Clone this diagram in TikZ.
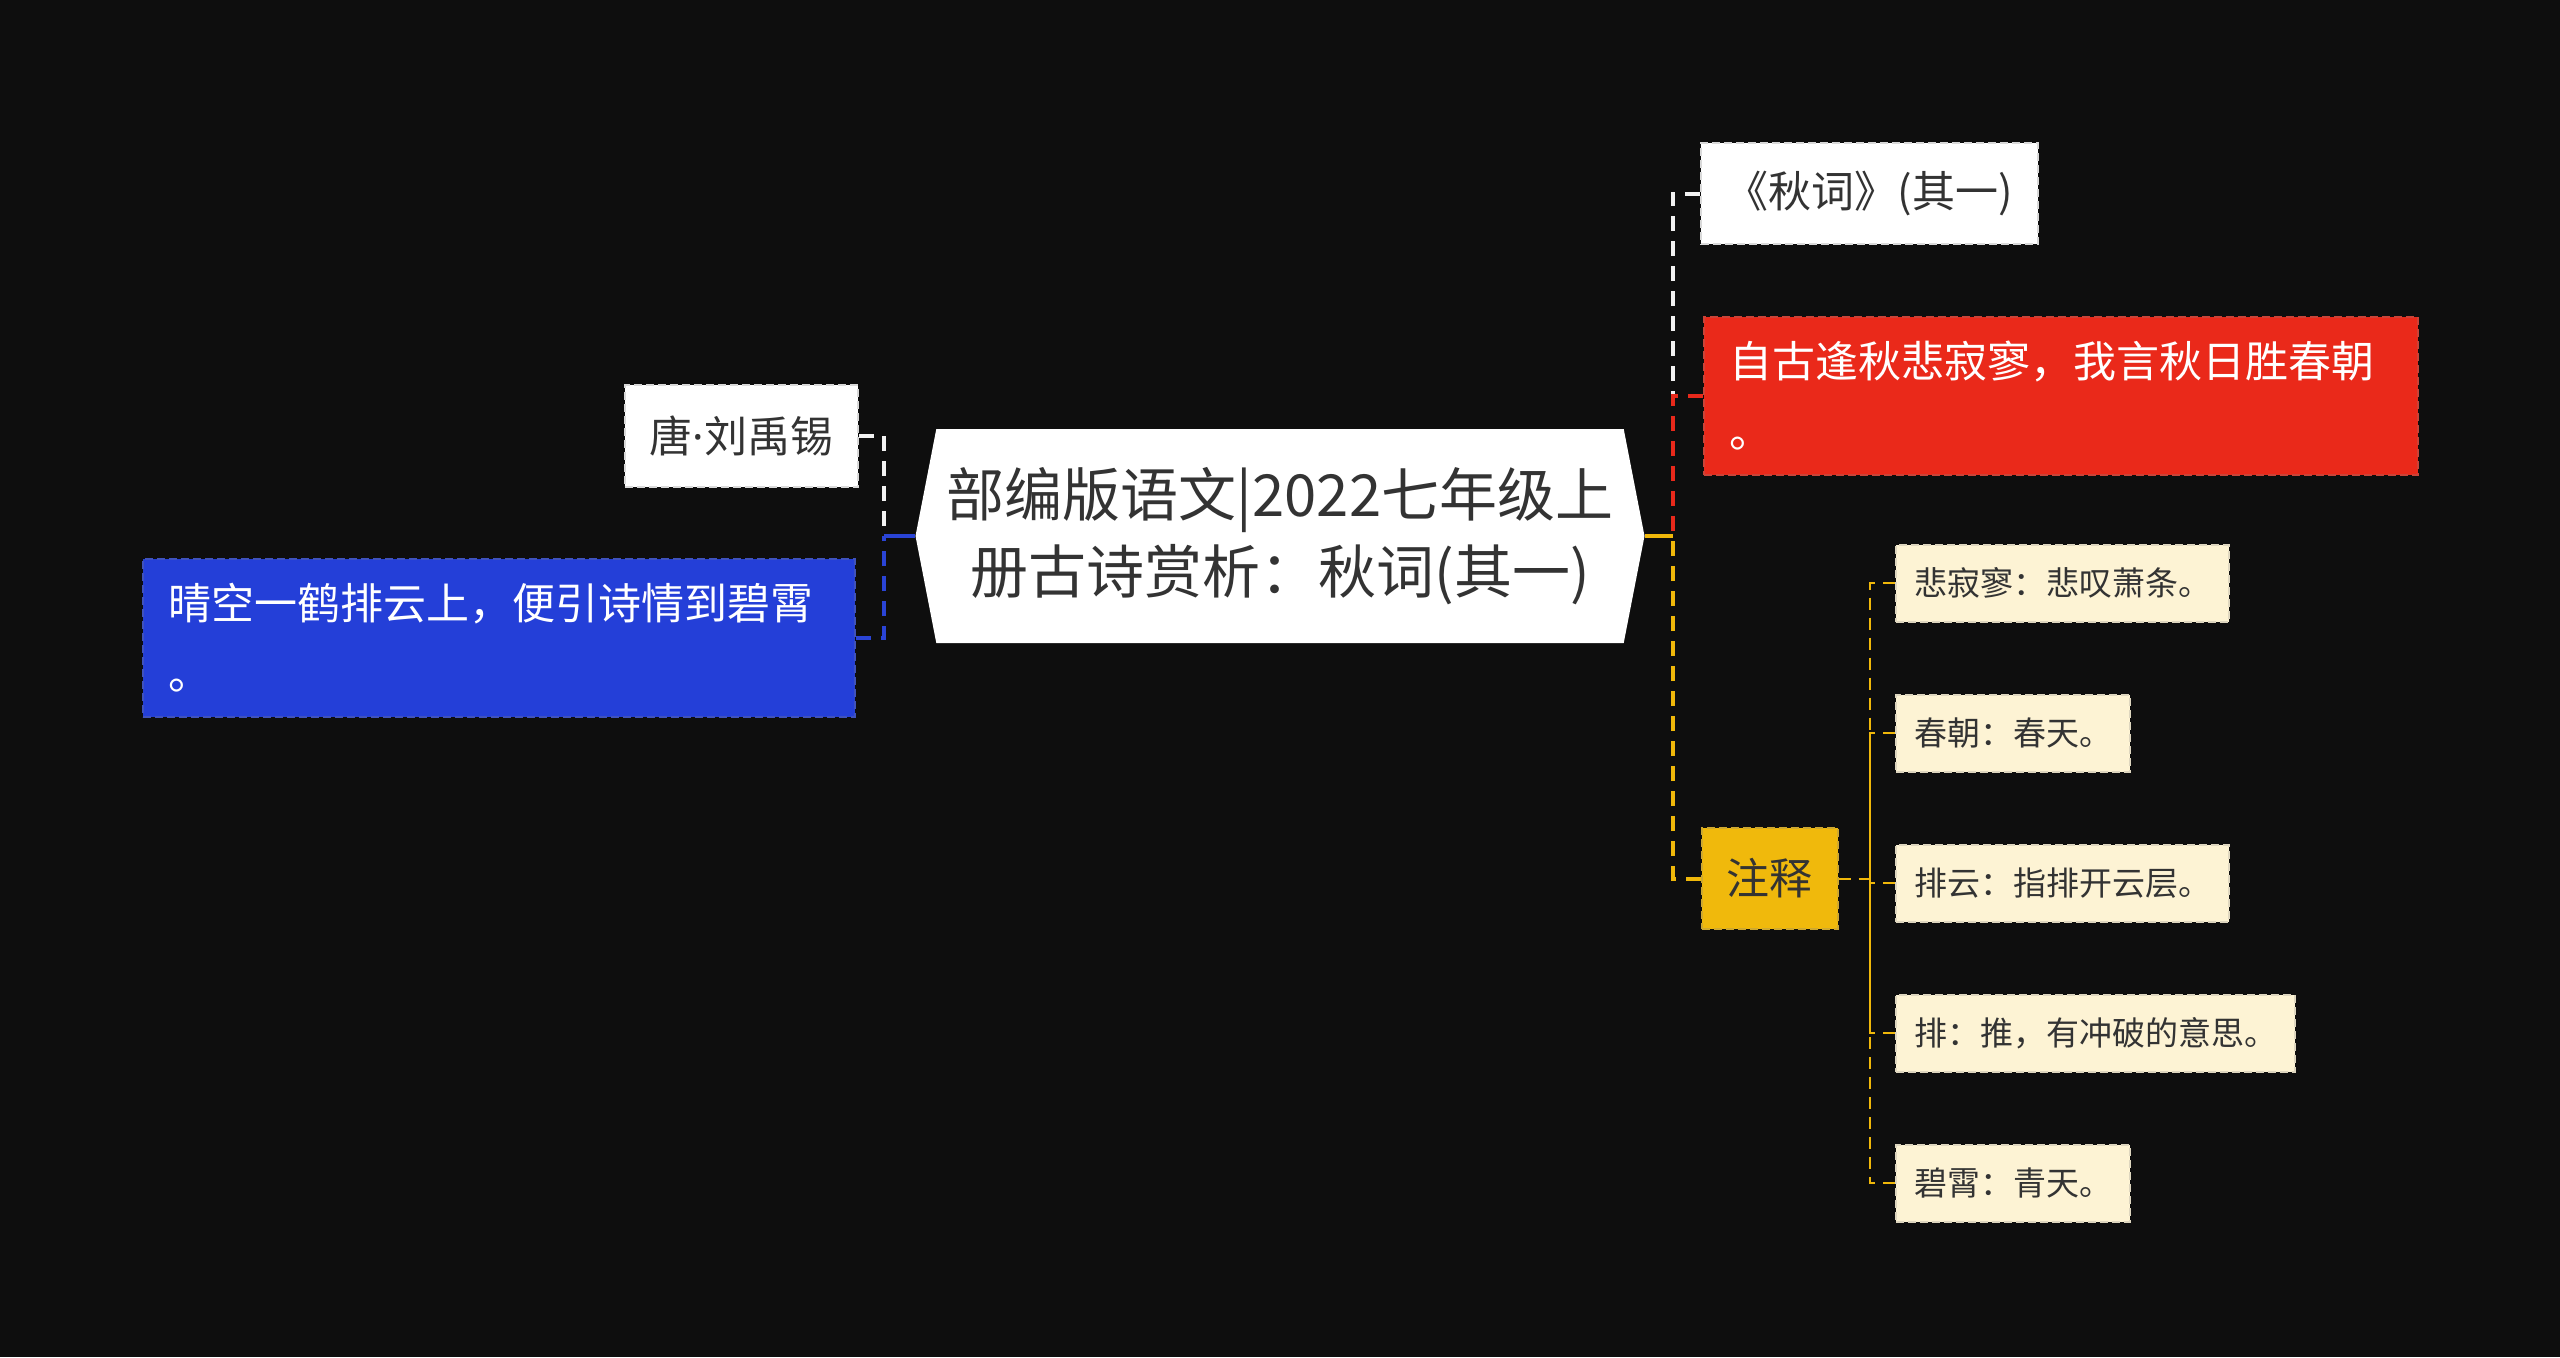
\documentclass[tikz,border=0pt]{standalone}
\usepackage{fontspec}
\setmainfont{Noto Sans CJK SC}
\newfontfamily\latinfont{Noto Sans}
\usetikzlibrary{positioning,shapes.symbols}
\definecolor{night}{RGB}{14,14,14}
\definecolor{ink}{RGB}{51,51,51}
\definecolor{poemred}{RGB}{234,41,26}
\definecolor{poemblue}{RGB}{36,63,216}
\definecolor{tagyellow}{RGB}{240,185,12}
\definecolor{cream}{RGB}{253,243,212}
\definecolor{lineW}{RGB}{242,242,242}
\definecolor{lineR}{RGB}{232,41,27}
\definecolor{lineY}{RGB}{240,184,10}
\definecolor{lineB}{RGB}{42,68,214}
\tikzset{
  hub/.style={
    shape=signal, signal to=east and west, signal pointer angle=158,
    fill=white, text=ink, align=center, inner sep=0pt,
    minimum width=364.5pt, minimum height=107pt,
    font=\fontsize{29}{38.5}\selectfont
  },
  leaf/.style={
    draw=#1!70!gray, dash pattern=on 4pt off 2pt, line width=1pt,
    fill=#1, rectangle, inner xsep=12.5pt, inner ysep=0pt,
    font=\fontsize{21.5}{35}\selectfont
  },
  plain/.style={leaf=white, text=ink, align=center},
  poem/.style={leaf=#1, text=white, align=left, text width=331pt, minimum height=79pt},
  tag/.style={leaf=tagyellow, text=ink, align=center},
  note/.style={
    draw=cream!75!gray, dash pattern=on 4pt off 2pt, line width=1pt,
    fill=cream, text=ink, rectangle, inner xsep=9pt, inner ysep=0pt,
    minimum height=38.5pt, font=\fontsize{16.5}{20}\selectfont
  },
  link/.style={draw=#1, line width=2pt, dash pattern=on 7.5pt off 5pt},
  twig/.style={draw=lineY, line width=1pt, dash pattern=on 6pt off 4pt},
}
\begin{document}
\begin{tikzpicture}[x=0.5pt, y=-0.5pt, node distance=35.5pt]
  \fill[night] (0,0) rectangle (2560,1357);
  % centre
  \node[hub] (root) at (1280,536) {部编版语文|2022七年级上\\册古诗赏析：秋词(其一)};
  % left side
  \node[plain, minimum width=113.5pt, minimum height=51pt] (auth) at (741.5,436) {唐{\latinfont ·}刘禹锡};
  \node[poem=poemblue] (blue) at (499,638) {晴空一鹤排云上，便引诗情到碧霄\\。};
  % right side
  \node[plain, minimum width=165.5pt, minimum height=50.5pt] (title) at (1869.5,193.5) {《秋词》(其一)};
  \node[poem=poemred, text width=332pt] (red) at (2061,396) {自古逢秋悲寂寥，我言秋日胜春朝\\。};
  \node[tag, minimum width=64.5pt, minimum height=50.5pt] (tag) at (1769.5,878.5) {注释};
  % notes
  \node[note, anchor=west] (n1) at (1895,583) {悲寂寥：悲叹萧条。};
  \node[note, below=of n1.south west, anchor=north west] (n2) {春朝：春天。};
  \node[note, below=of n2.south west, anchor=north west] (n3) {排云：指排开云层。};
  \node[note, below=of n3.south west, anchor=north west] (n4) {排：推，有冲破的意思。};
  \node[note, below=of n4.south west, anchor=north west] (n5) {碧霄：青天。};
  % joints
  \coordinate (rj) at ([xshift=14pt]root.east);
  \coordinate (lj) at ([xshift=-15.5pt]root.west);
  \coordinate (tj) at ([xshift=15.5pt]tag.east);
  \draw[link=lineW] (title.west) -| (rj);
  \draw[link=lineR] (red.west) -| (rj);
  \draw[link=lineY] (tag.west) -| (rj);
  \draw[link=lineY, solid] (root.east) -- (rj);
  \draw[link=lineW] (auth.east) -| (lj);
  \draw[link=lineB] (blue.east) -| (lj);
  \draw[link=lineB, solid] (root.west) -- (lj);
  \draw[twig] (tag.east) -- (tj);
  \draw[twig] (n1.west) -| (tj);
  \draw[twig] (n2.west) -| (tj);
  \draw[twig] (n3.west) -| (tj);
  \draw[twig] (n4.west) -| (tj);
  \draw[twig] (n5.west) -| (tj);
\end{tikzpicture}
\end{document}
